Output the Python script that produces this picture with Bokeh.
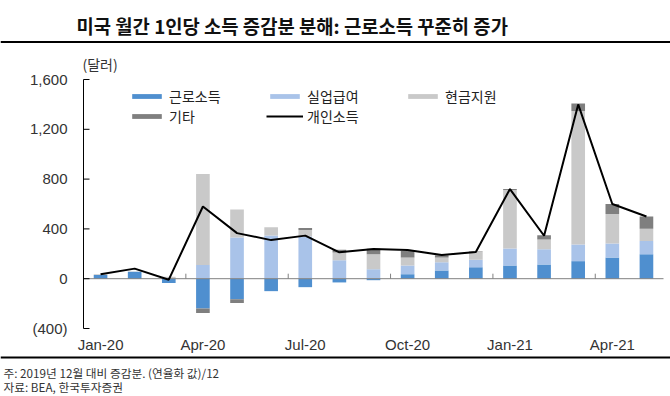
from bokeh.plotting import figure
from bokeh.models import (ColumnDataSource, Range1d, Legend, LegendItem, Label)
from bokeh.embed import file_html
from bokeh.resources import INLINE

# ---------------- data ----------------
months = ["Jan-20", "Feb-20", "Mar-20", "Apr-20", "May-20", "Jun-20", "Jul-20",
          "Aug-20", "Sep-20", "Oct-20", "Nov-20", "Dec-20", "Jan-21", "Feb-21",
          "Mar-21", "Apr-21", "May-21"]
labor = [30, 55, -35, -240, -165, -100, -68, -30, -12, 36, 66, 92, 106, 114, 141, 170, 196]
unemp = [0, 0, 0, 110, 330, 346, 338, 148, 76, 70, 66, 60, 136, 123, 133, 112, 106]
cash = [6, 3, 15, 730, 226, 68, 54, 62, 120, 64, 38, 62, 470, 78, 1072, 238, 99]
other = [0, 0, 0, -35, -30, 0, 16, 22, 44, 52, 18, 4, 8, 35, 62, 80, 99]
personal = [36, 81, -8, 580, 366, 310, 346, 212, 238, 230, 190, 215, 720, 345, 1400, 600, 500]

tick_months = ["Jan-20", "Apr-20", "Jul-20", "Oct-20", "Jan-21", "Apr-21"]
yticks = [-400, 0, 400, 800, 1200, 1600]
ytick_labels = ["(400)", "0", "400", "800", "1,200", "1,600"]

names = ["근로소득", "실업급여", "현금지원", "기타"]
line_name = "개인소득"
colors = ["#4F8FCF", "#A9C3E9", "#C9C9C9", "#7F7F7F"]
series = [labor, unemp, cash, other]

title_text = "미국 월간 1인당 소득 증감분 분해: 근로소득 꾸준히 증가"
unit_text = "(달러)"
note1 = "주: 2019년 12월 대비 증감분. (연율화 값)/12"
note2 = "자료: BEA, 한국투자증권"

KR = "Noto Sans CJK KR"
LAT = "Liberation Sans"

# ---------------- layout constants (page pixels) ----------------
W, H = 670, 396
FL, FR, FT, FB = 83, 663, 79, 328          # chart plotting area
n = len(months)
XMIN, XMAX = -0.5, n - 0.5
YMIN, YMAX = yticks[0], yticks[-1]
sx = (FR - FL) / (XMAX - XMIN)   # px per x unit
sy = (FB - FT) / (YMAX - YMIN)   # px per y unit
TICK = 6  # px

# ---------------- stacking (positive up, negative down) ----------------
xs = list(range(n))
pos = [0] * n
neg = [0] * n
data = {"x": xs, "personal": personal}
for k, s in enumerate(series):
    b, t = [], []
    for i, v in enumerate(s):
        if v >= 0:
            b.append(pos[i]); t.append(pos[i] + v); pos[i] += v
        else:
            b.append(neg[i]); t.append(neg[i] + v); neg[i] += v
    data[f"b{k}"] = b
    data[f"t{k}"] = t
src = ColumnDataSource(data)

p = figure(width=W, height=H, output_backend="svg", toolbar_location=None,
           x_range=Range1d(0, W), y_range=Range1d(H, 0),
           x_axis_type=None, y_axis_type=None, min_border=0)
p.outline_line_color = None
p.background_fill_color = None
p.border_fill_color = None
p.extra_x_ranges = {"cx": Range1d(XMIN - FL / sx, XMAX + (W - FR) / sx)}
p.extra_y_ranges = {"cy": Range1d(YMIN - (H - FB) / sy, YMAX + FT / sy)}
C = dict(x_range_name="cx", y_range_name="cy")

# ---- bars ----
bars = []
for k in range(len(series)):
    r = p.vbar(x="x", bottom=f"b{k}", top=f"t{k}", width=0.4,
               fill_color=colors[k], line_color=None, source=src, **C)
    bars.append(r)

# ---- zero line + quarter boundary ticks ----
p.segment(x0=[XMIN], y0=[0], x1=[XMAX], y1=[0], line_color="#808080", line_width=1, **C)
tick_idx = [months.index(m) for m in tick_months]
bnds = [i - 0.5 for i in tick_idx if i > 0]
p.segment(x0=bnds, y0=[0] * len(bnds), x1=bnds, y1=[5 / sy] * len(bnds),
          line_color="#808080", line_width=1, **C)

# ---- y axis ----
p.segment(x0=[XMIN], y0=[YMIN], x1=[XMIN], y1=[YMAX], line_color="black", line_width=1, **C)
p.segment(x0=[XMIN] * len(yticks), y0=yticks, x1=[XMIN + TICK / sx] * len(yticks), y1=yticks,
          line_color="black", line_width=1, **C)
p.text(x=[FL - 16] * len(yticks), y=yticks, text=ytick_labels, y_range_name="cy",
       text_font={"value": LAT}, text_font_size="15px", text_color="#333333",
       text_align="right", text_baseline="middle")

# ---- x labels ----
p.text(x=tick_idx, y=[344] * len(tick_idx), text=[months[i] for i in tick_idx],
       x_range_name="cx", text_font={"value": LAT}, text_font_size="15px",
       text_color="#333333", text_align="center", text_baseline="middle")

# ---- personal income line ----
ln = p.line("x", "personal", line_color="black", line_width=2, source=src, **C)

# ---- legend ----
items = [LegendItem(label=names[k], renderers=[bars[k]]) for k in range(len(series))]
items.append(LegendItem(label=line_name, renderers=[ln]))
legend = Legend(items=items, orientation="horizontal", ncols=3, location=(128, 270),
                glyph_width=37, glyph_height=6, label_standoff=4, label_width=97,
                label_height=19, spacing=0, padding=0, margin=0,
                border_line_color=None, background_fill_alpha=0,
                label_text_font=KR, label_text_font_size="14px",
                label_text_color="#222222")
p.add_layout(legend)

# ---- header / footer ----
p.segment(x0=[0, 0], y0=[41.5, 357], x1=[W, W], y1=[41.5, 357],
          line_color="black", line_width=2)
p.add_layout(Label(x=76, y=24.5, text=title_text, text_font=KR,
                   text_font_size="18.8px", text_font_style="bold",
                   text_color="#111111", text_align="left", text_baseline="middle"))
p.add_layout(Label(x=82, y=63, text=unit_text, text_font=KR,
                   text_font_size="14px", text_color="#333333",
                   text_align="left", text_baseline="middle"))
p.add_layout(Label(x=3, y=372, text=note1, text_font=KR, text_font_size="11.7px",
                   text_color="#333333", text_align="left", text_baseline="middle"))
p.add_layout(Label(x=3, y=386, text=note2, text_font=KR, text_font_size="11.7px",
                   text_color="#333333", text_align="left", text_baseline="middle"))

open("out.html", "w").write(file_html(p, INLINE))
